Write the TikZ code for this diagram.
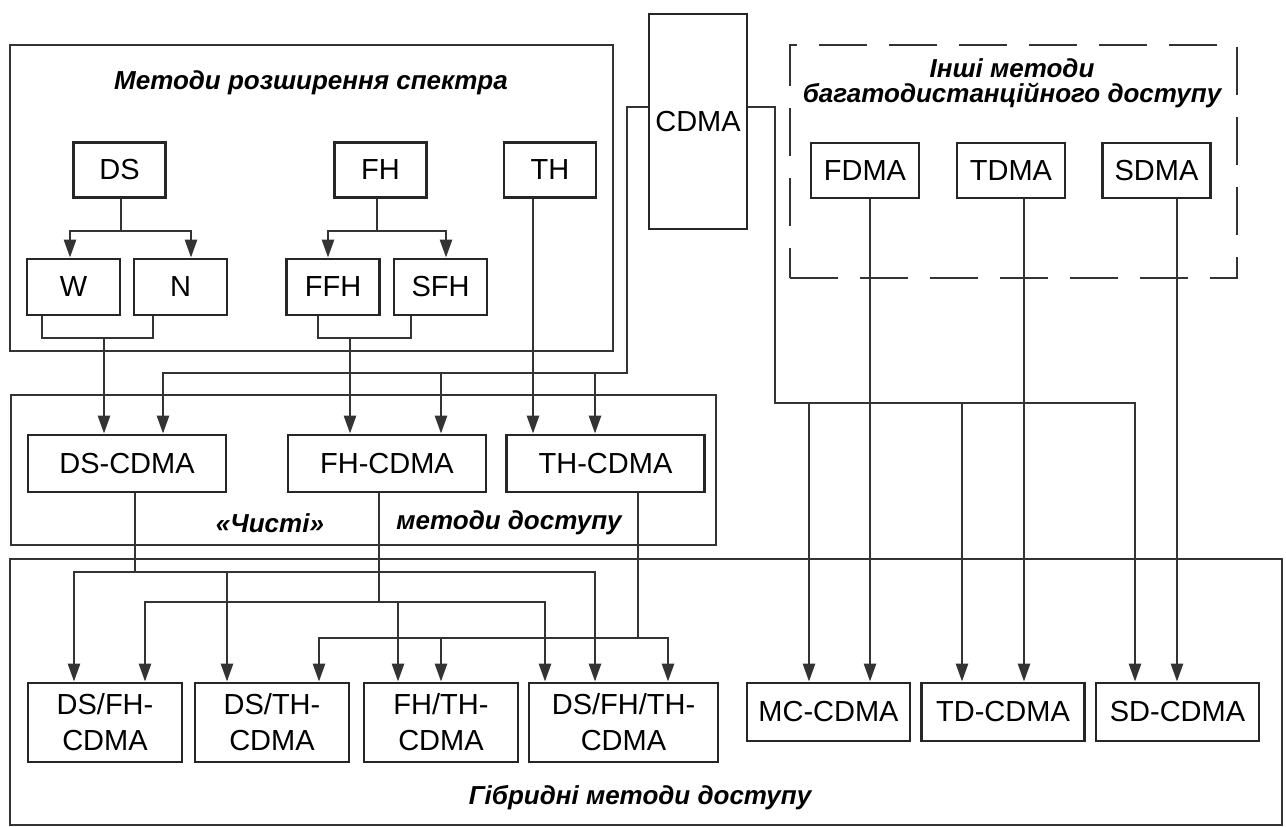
\documentclass[tikz,border=0pt]{standalone}
\usepackage{fontspec}
\setmainfont{Liberation Sans}
\usetikzlibrary{arrows.meta}
\begin{document}
\begin{tikzpicture}[x=0.5pt,y=-0.5pt,
  box/.style={draw=black!85,line width=1.4pt,inner sep=0pt,align=center,
    font=\fontsize{14.5}{18}\selectfont},
  frame/.style={draw=black!80,line width=1.4pt,inner sep=0pt},
  ln/.style={draw=black!80,line width=1.3pt},
  arr/.style={ln,-{Triangle[length=9pt,width=6pt]}},
  ttl/.style={font=\fontsize{13}{13}\selectfont\bfseries\itshape,align=center,inner sep=0pt}
]
\useasboundingbox (0,0) rectangle (1286,826);

% frames
\node[frame,minimum width=301.5pt,minimum height=153pt] (F1) at (311.5,198) {};
\node[frame,minimum width=352.5pt,minimum height=75pt] (F2) at (363.5,470) {};
\node[frame,dash pattern=on 24pt off 11pt,minimum width=223.5pt,minimum height=116.5pt] (F3) at (1013.5,161.5) {};
\node[frame,minimum width=636pt,minimum height=133pt] (F4) at (646,692) {};

% titles
\node[ttl] (T1) at (311,83) {Методи розширення спектра};
\node[ttl,font=\fontsize{13}{12.5}\selectfont\bfseries\itshape] (T3) at (1012,83) {Інші методи\\багатодистанційного доступу};
\node[ttl] (T2a) at (270,523) {«Чисті»};
\node[ttl] (T2b) at (509,523) {методи доступу};
\node[ttl] (T4) at (640,798) {Гібридні методи доступу};

% spectrum spreading
\node[box,minimum width=46pt,minimum height=27.5pt] (DS) at (119.5,170) {DS};
\node[box,minimum width=46pt,minimum height=27.5pt] (FH) at (380.5,170) {FH};
\node[box,minimum width=46pt,minimum height=27.5pt] (TH) at (550,170) {TH};
\node[box,minimum width=46.5pt,minimum height=28pt] (W) at (73.5,287) {W};
\node[box,minimum width=46.5pt,minimum height=28pt] (N) at (180.5,287) {N};
\node[box,minimum width=46.5pt,minimum height=28pt] (FFH) at (333,287) {FFH};
\node[box,minimum width=46.5pt,minimum height=28pt] (SFH) at (440.5,287) {SFH};

% CDMA
\node[box,minimum width=49pt,minimum height=107.5pt] (CDMA) at (698,121.5) {CDMA};

% other methods
\node[box,minimum width=54pt,minimum height=27.5pt] (FDMA) at (865,170.5) {FDMA};
\node[box,minimum width=54pt,minimum height=27.5pt] (TDMA) at (1011,170.5) {TDMA};
\node[box,minimum width=54pt,minimum height=27.5pt] (SDMA) at (1156.5,170.5) {SDMA};

% pure methods
\node[box,minimum width=99pt,minimum height=28.5pt] (DSC) at (127,463.5) {DS-CDMA};
\node[box,minimum width=99pt,minimum height=28.5pt] (FHC) at (387,463.5) {FH-CDMA};
\node[box,minimum width=99pt,minimum height=28.5pt] (THC) at (605.5,463.5) {TH-CDMA};

% hybrid
\node[box,minimum width=77pt,minimum height=39.5pt] (DSFH) at (105,722.5) {DS/FH-\\CDMA};
\node[box,minimum width=77pt,minimum height=39.5pt] (DSTH) at (272,722.5) {DS/TH-\\CDMA};
\node[box,minimum width=77pt,minimum height=39.5pt] (FHTH) at (441,722.5) {FH/TH-\\CDMA};
\node[box,minimum width=94.5pt,minimum height=39.5pt] (DSFHTH) at (623.5,722.5) {DS/FH/TH-\\CDMA};
\node[box,minimum width=81.5pt,minimum height=29pt] (MC) at (828.5,712) {MC-CDMA};
\node[box,minimum width=81.5pt,minimum height=29pt] (TD) at (1003,712) {TD-CDMA};
\node[box,minimum width=81.5pt,minimum height=29pt] (SD) at (1177.5,712) {SD-CDMA};

% junction coordinates
\coordinate (dsj) at (121,231);
\coordinate (fhj) at (377,231);
\coordinate (wnj) at (104,338);
\coordinate (ffj) at (350,338);
\coordinate (cl) at (627,373);
\coordinate (cr) at (775,403);
\coordinate (h1) at (135,572);
\coordinate (h2) at (379,602);
\coordinate (h3) at (638,638);

% DS and FH splits
\draw[ln] (DS.south -| dsj) -- (dsj);
\draw[arr] (dsj) -| (W.north -| 70,0);
\draw[arr] (dsj) -| (N.north -| 191,0);
\draw[ln] (FH.south -| fhj) -- (fhj);
\draw[arr] (fhj) -| (FFH.north -| 328,0);
\draw[arr] (fhj) -| (SFH.north -| 446,0);

% brackets
\draw[ln] (W.south -| 42,0) |- (wnj) -| (N.south -| 153,0);
\draw[arr] (wnj) -- (DSC.north -| wnj);
\draw[ln] (FFH.south -| 318,0) |- (ffj) -| (SFH.south -| 411,0);
\draw[arr] (ffj) -- (FHC.north -| ffj);
\draw[arr] (TH.south -| 533,0) -- (THC.north -| 533,0);

% CDMA links
\draw[arr] (CDMA.west |- 0,107) -| (cl) -| (DSC.north -| 163,0);
\draw[arr] (cl -| 441,0) -- (FHC.north -| 441,0);
\draw[arr] (cl -| 595,0) -- (THC.north -| 595,0);
\draw[arr] (CDMA.east |- 0,107) -| (cr) -| (SD.north -| 1135,0);
\draw[arr] (cr -| 809,0) -- (MC.north -| 809,0);
\draw[arr] (cr -| 962,0) -- (TD.north -| 962,0);

% other methods down
\draw[arr] (FDMA.south -| 870,0) -- (MC.north -| 870,0);
\draw[arr] (TDMA.south -| 1024,0) -- (TD.north -| 1024,0);
\draw[arr] (SDMA.south -| 1177,0) -- (SD.north -| 1177,0);

% hybrid links
\draw[ln] (DSC.south -| h1) -- (h1);
\draw[arr] (h1) -| (DSFH.north -| 74,0);
\draw[arr] (h1) -| (DSFHTH.north -| 595,0);
\draw[arr] (h1 -| 227,0) -- (DSTH.north -| 227,0);
\draw[ln] (FHC.south -| h2) -- (h2);
\draw[arr] (h2) -| (DSFH.north -| 145,0);
\draw[arr] (h2) -| (DSFHTH.north -| 545,0);
\draw[arr] (h2 -| 398,0) -- (FHTH.north -| 398,0);
\draw[ln] (THC.south -| h3) -- (h3);
\draw[arr] (h3) -| (DSTH.north -| 319,0);
\draw[arr] (h3) -| (DSFHTH.north -| 668,0);
\draw[arr] (h3 -| 441,0) -- (FHTH.north -| 441,0);
\end{tikzpicture}
\end{document}
